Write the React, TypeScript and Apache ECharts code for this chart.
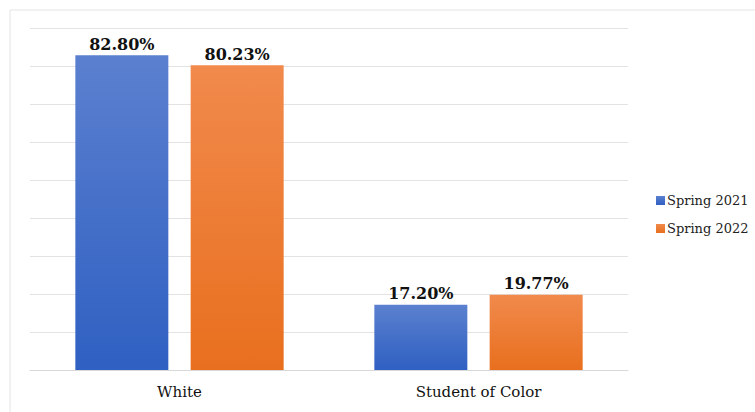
import React, { useEffect, useRef } from "react";
import * as echarts from "echarts";

const categories = ["White", "Student of Color"];
const seriesNames = ["Spring 2021", "Spring 2022"];
const spring2021 = [82.8, 17.2];
const spring2022 = [80.23, 19.77];

const serif = "DejaVu Serif";

const blueFill = new echarts.graphic.LinearGradient(0, 0, 0, 1, [
  { offset: 0, color: "#5b80cf" },
  { offset: 1, color: "#2f60c2" },
]);
const orangeFill = new echarts.graphic.LinearGradient(0, 0, 0, 1, [
  { offset: 0, color: "#f18a4c" },
  { offset: 1, color: "#e86f1e" },
]);

export default function App() {
  const ref = useRef<HTMLDivElement>(null);

  useEffect(() => {
    if (!ref.current) return;
    const chart = echarts.init(ref.current, null, { renderer: "svg" });
    const label = {
      show: true,
      position: "top",
      distance: 3,
      fontFamily: serif,
      fontWeight: "bold",
      fontSize: 16,
      color: "#111",
      formatter: (p: any) => p.value.toFixed(2) + "%",
    };
    chart.setOption({
      animation: false,
      backgroundColor: "#ffffff",
      textStyle: { fontFamily: serif },
      graphic: [
        {
          type: "rect",
          shape: { x: 10, y: 10, width: 760, height: 420 },
          style: { fill: "none", stroke: "#e4e4e4", lineWidth: 1 },
          silent: true,
        },
      ],
      grid: { left: 30, right: 127, top: 28, bottom: 42 },
      legend: {
        orient: "vertical",
        left: 651,
        top: 189,
        itemWidth: 9,
        itemHeight: 9,
        itemGap: 15,
        icon: "rect",
        textStyle: { fontFamily: serif, fontSize: 13, color: "#222", padding: [0, 0, 0, -3] },
        data: seriesNames,
      },
      xAxis: {
        type: "category",
        data: categories,
        axisTick: { show: false },
        axisLine: { lineStyle: { color: "#d9d9d9" } },
        axisLabel: { fontFamily: serif, fontSize: 15, color: "#111", margin: 14 },
      },
      yAxis: {
        type: "value",
        min: 0,
        max: 90,
        interval: 10,
        axisLabel: { show: false },
        axisLine: { show: false },
        axisTick: { show: false },
        splitLine: { lineStyle: { color: "#e3e3e3" } },
      },
      series: [
        {
          name: seriesNames[0],
          type: "bar",
          data: spring2021,
          barWidth: 93,
          barGap: "24%",
          itemStyle: { color: blueFill },
          label,
        },
        {
          name: seriesNames[1],
          type: "bar",
          data: spring2022,
          barWidth: 93,
          itemStyle: { color: orangeFill },
          label,
        },
      ],
    });
    return () => chart.dispose();
  }, []);

  return (
    <div
      ref={ref}
      style={{ position: "absolute", left: 0, top: 0, width: 755, height: 412 }}
    />
  );
}
